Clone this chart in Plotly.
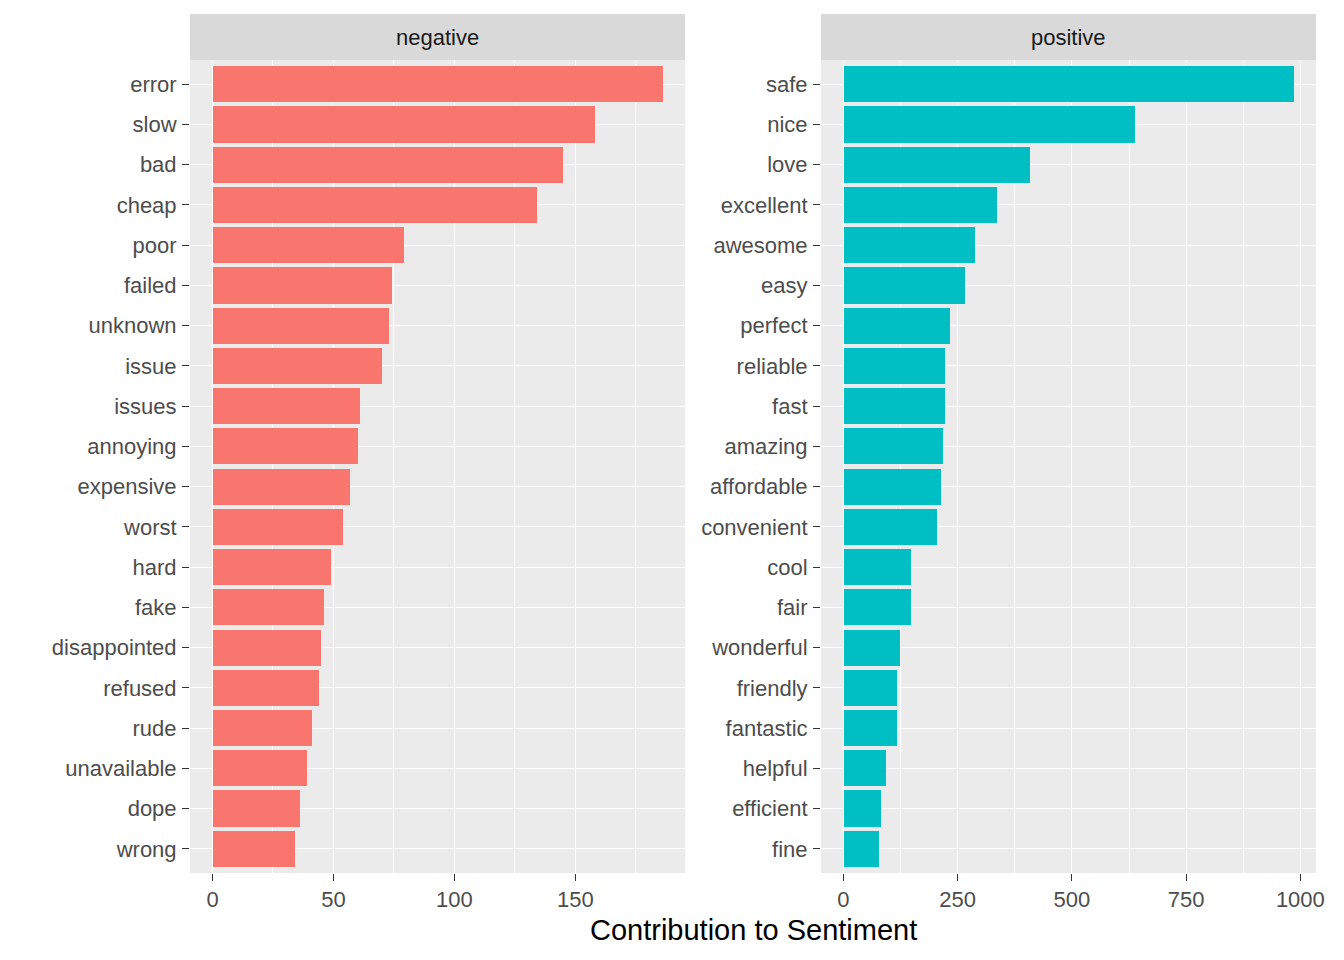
import plotly.graph_objects as go

# Word contributions, listed top to bottom as they appear in each facet
negative_words = ['error', 'slow', 'bad', 'cheap', 'poor', 'failed', 'unknown', 'issue', 'issues',
                  'annoying', 'expensive', 'worst', 'hard', 'fake', 'disappointed', 'refused',
                  'rude', 'unavailable', 'dope', 'wrong']
negative_values = [186, 158, 145, 134, 79, 74, 73, 70, 61, 60, 57, 54, 49, 46, 45, 44, 41, 39, 36, 34]

positive_words = ['safe', 'nice', 'love', 'excellent', 'awesome', 'easy', 'perfect', 'reliable',
                  'fast', 'amazing', 'affordable', 'convenient', 'cool', 'fair', 'wonderful',
                  'friendly', 'fantastic', 'helpful', 'efficient', 'fine']
positive_values = [985, 637, 408, 335, 287, 266, 233, 222, 222, 218, 214, 205, 147, 147, 123,
                   117, 117, 93, 82, 78]

facet_labels = ['negative', 'positive']
neg_ticks = [0, 50, 100, 150]
pos_ticks = [0, 250, 500, 750, 1000]

NEG_COLOR = '#F8766D'
POS_COLOR = '#00BFC4'
FONT = 'Liberation Sans, Arial, sans-serif'

# page body adds an 8px margin all round, so keep the figure inside the window;
# right margin leaves just enough room for the "1000" label
FIG_W, FIG_H = 1328, 944
M_L, M_R, M_T, M_B = 182, 11, 52, 79
plot_w = FIG_W - M_L - M_R
plot_h = FIG_H - M_T - M_B

fig = go.Figure()

# Plotly draws categories bottom-up, so reverse the lists
fig.add_trace(go.Bar(
    x=negative_values[::-1],
    y=negative_words[::-1],
    orientation='h',
    width=0.9,
    marker=dict(color=NEG_COLOR, line=dict(width=0)),
    showlegend=False,
    xaxis='x', yaxis='y'
))
fig.add_trace(go.Bar(
    x=positive_values[::-1],
    y=positive_words[::-1],
    orientation='h',
    width=0.9,
    marker=dict(color=POS_COLOR, line=dict(width=0)),
    showlegend=False,
    xaxis='x2', yaxis='y2'
))


def x_axis(domain, ticks, minor_step, max_val):
    pad = max_val * 0.05
    return dict(
        domain=domain,
        range=[-pad, max_val + pad],
        tickvals=ticks,
        ticks='outside', ticklen=7, tickwidth=1.4, tickcolor='#333333',
        ticklabeloverflow='allow',
        tickfont=dict(family=FONT, size=22, color='#4D4D4D'),
        showgrid=True, gridcolor='white', gridwidth=1.4,
        minor=dict(dtick=minor_step, tick0=0, showgrid=True, gridcolor='white', gridwidth=0.7),
        zeroline=False, showline=False, fixedrange=True
    )


def y_axis(anchor, words):
    return dict(
        anchor=anchor,
        type='category',
        categoryorder='array',
        categoryarray=words[::-1],
        range=[-0.6, len(words) - 0.4],
        ticks='outside', ticklen=7, tickwidth=1.4, tickcolor='#333333',
        ticklabelstandoff=1,
        tickfont=dict(family=FONT, size=22, color='#4D4D4D'),
        showgrid=True, gridcolor='white', gridwidth=1.4,
        zeroline=False, showline=False, fixedrange=True
    )


# both panels ~500px wide with a ~138px gap for the right panel's labels
left_end = 499 / plot_w
right_start = 636 / plot_w

fig.update_layout(
    width=FIG_W,
    height=FIG_H,
    autosize=False,
    margin=dict(l=M_L, r=M_R, t=M_T, b=M_B),
    paper_bgcolor='white',
    plot_bgcolor='#EBEBEB',
    bargap=0,
    xaxis=x_axis([0, left_end], neg_ticks, 25, max(negative_values)),
    yaxis=y_axis('x', negative_words),
    xaxis2=x_axis([right_start, 1], pos_ticks, 125, max(positive_values)),
    yaxis2=y_axis('x2', positive_words),
    font=dict(family=FONT)
)

# Facet strips (about 46px tall, sitting right on top of each panel)
strip_top = 1 + 46 / plot_h
for i, label in enumerate(facet_labels):
    xr = 'x domain' if i == 0 else 'x2 domain'
    yr = 'y domain' if i == 0 else 'y2 domain'
    fig.add_shape(type='rect', xref=xr, yref=yr, x0=0, x1=1, y0=1, y1=strip_top,
                  fillcolor='#D9D9D9', line=dict(width=0), layer='below')
    fig.add_annotation(text=label, xref=xr, yref=yr, x=0.5, y=(1 + strip_top) / 2,
                       showarrow=False, xanchor='center', yanchor='middle',
                       font=dict(family=FONT, size=22, color='#1A1A1A'))

# Shared x axis title
fig.add_annotation(text='Contribution to Sentiment', xref='paper', yref='paper',
                   x=0.5, y=-57 / plot_h, showarrow=False,
                   xanchor='center', yanchor='middle',
                   font=dict(family=FONT, size=29, color='black'))

fig.write_html("out.html")
